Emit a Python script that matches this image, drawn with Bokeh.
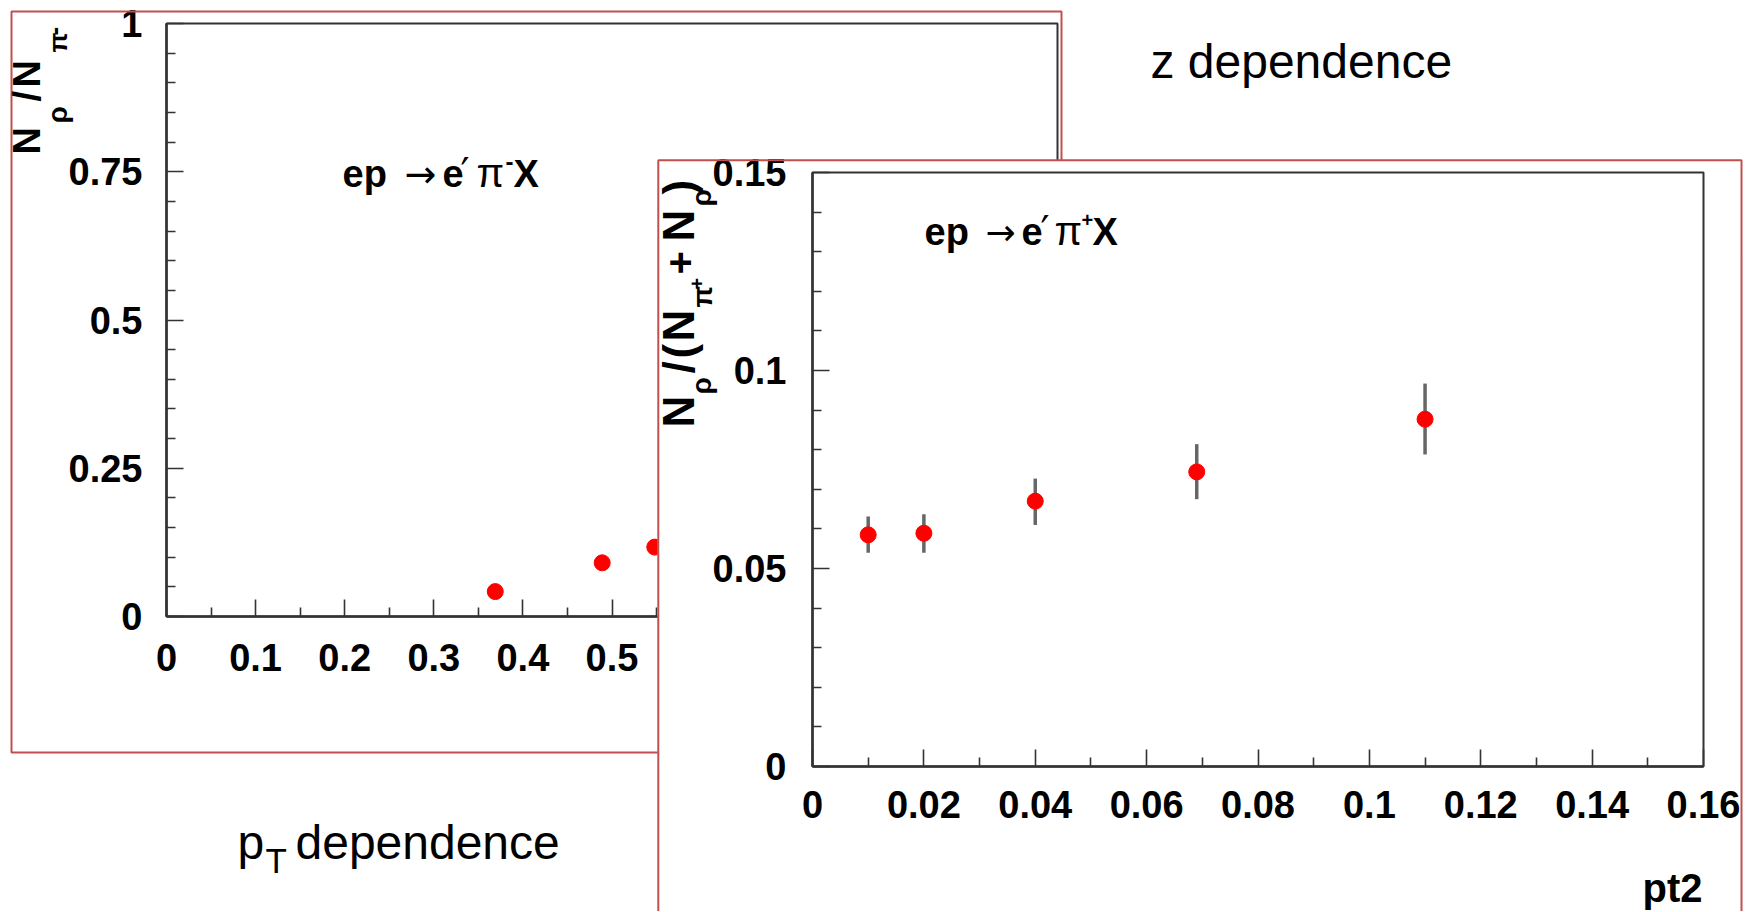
import math
from bokeh.plotting import figure
from bokeh.models import (Range1d, FixedTicker, Label, BoxAnnotation, Row, Column,
                          Spacer, ColumnDataSource)
from bokeh.embed import file_html
from bokeh.resources import INLINE

# ---------------- data ----------------
# left panel (ep -> e' pi- X), ratio N_rho / N_pi-
z_x = [0.369, 0.489, 0.548]
z_y = [0.042, 0.0905, 0.117]

# right panel (ep -> e' pi+ X), ratio vs pt2
pt2_x = [0.010, 0.020, 0.040, 0.069, 0.110]
ratio_y = [0.0585, 0.0589, 0.0670, 0.0744, 0.0877]
err_lo = [0.0540, 0.0540, 0.0610, 0.0675, 0.0788]
err_hi = [0.0631, 0.0637, 0.0727, 0.0814, 0.0967]

# tick labels
a_x_ticks = [0, 0.1, 0.2, 0.3, 0.4, 0.5, 0.6, 0.7, 0.8, 0.9, 1.0]
a_x_labels = ["0", "0.1", "0.2", "0.3", "0.4", "0.5", "0.6", "0.7", "0.8", "0.9", "1"]
a_y_ticks = [0, 0.25, 0.5, 0.75, 1.0]
a_y_labels = ["0", "0.25", "0.5", "0.75", "1"]
b_x_ticks = [0, 0.02, 0.04, 0.06, 0.08, 0.1, 0.12, 0.14, 0.16]
b_x_labels = ["0", "0.02", "0.04", "0.06", "0.08", "0.1", "0.12", "0.14", "0.16"]
b_y_ticks = [0, 0.05, 0.1, 0.15]
b_y_labels = ["0", "0.05", "0.1", "0.15"]

a_x_minor = [round(0.05 + 0.1 * k, 4) for k in range(10)]
a_y_minor = [round(0.05 * k, 4) for k in range(21) if k % 5]
b_x_minor = [round(0.01 + 0.02 * k, 4) for k in range(8)]
b_y_minor = [round(0.01 * k, 4) for k in range(16) if k % 5]

RED_BORDER = "#c0504d"
AXC = "#333333"
BOLD = "Liberation Sans"
R90 = math.pi / 2
BASE_K = 0.33   # offset between requested and drawn baseline, in em

# ---------------- geometry (page pixels) ----------------
A_W, A_H = 1062, 760
A_L, A_R, A_T, A_B = 166, 1057, 23, 616
CA_W, CA_H = 1460, 890
B_OX, B_OY = 657, 151
B_W, B_H = 1086, 758
B_L, B_R, B_T, B_B = 812, 1703, 172, 766
CB_OX = 560
CB_W, CB_H = 1743 - CB_OX, 911


def lbl(p, px, py, text, size, bold=True, font=BOLD, angle=0.0, align="left", ox=0):
    x, y = px - ox, py
    if angle:
        x -= BASE_K * size
    else:
        y -= BASE_K * size
    p.add_layout(Label(x=x, y=y, text=text, text_font=font,
                       text_font_size=f"{size}px",
                       text_font_style="bold" if bold else "normal",
                       angle=angle, text_align=align,
                       text_baseline="alphabetic", text_color="black"))


def rect(p, l, t, r, b, ox=0, line=None, fill=None, lw=2):
    p.add_layout(BoxAnnotation(left=l - ox, right=r - ox, top=t, bottom=b,
                               fill_color=fill, fill_alpha=1 if fill else 0,
                               line_color=line, line_width=lw,
                               line_alpha=1 if line else 0))


def style_axis(ax, ticks, minor, labels, standoff, size):
    ax.ticker = FixedTicker(ticks=ticks, minor_ticks=minor)
    ax.major_label_overrides = dict(zip(ticks, labels))
    ax.major_tick_in = 17
    ax.major_tick_out = 0
    ax.minor_tick_in = 9
    ax.minor_tick_out = 0
    ax.axis_line_color = AXC
    ax.axis_line_width = 2.5
    ax.major_tick_line_color = AXC
    ax.major_tick_line_width = 1.6
    ax.minor_tick_line_color = AXC
    ax.minor_tick_line_width = 1.6
    ax.major_label_text_font = BOLD
    ax.major_label_text_font_style = "bold"
    ax.major_label_text_font_size = f"{size}px"
    ax.major_label_text_color = "black"
    ax.major_label_standoff = standoff


def overlay(w, h):
    p = figure(width=w, height=h, x_range=Range1d(0, w), y_range=Range1d(h, 0),
               x_axis_location=None, y_axis_location=None, toolbar_location=None,
               output_backend="svg", title=None,
               min_border_left=0, min_border_right=0, min_border_top=0,
               min_border_bottom=0)
    p.grid.visible = False
    p.background_fill_color = None
    p.border_fill_color = None
    p.outline_line_color = None
    return p


# ---------------- left panel ----------------
pA = figure(width=A_W, height=A_H, x_range=Range1d(0, 1), y_range=Range1d(0, 1),
            output_backend="svg", toolbar_location=None, title=None,
            min_border_left=A_L, min_border_right=A_W - A_R,
            min_border_top=A_T, min_border_bottom=A_H - A_B)
pA.xgrid.visible = False
pA.ygrid.visible = False
pA.background_fill_color = "white"
pA.border_fill_color = "white"
pA.outline_line_color = AXC
pA.outline_line_width = 2
style_axis(pA.xaxis[0], a_x_ticks, a_x_minor, a_x_labels, 27, 38)
style_axis(pA.yaxis[0], a_y_ticks, a_y_minor, a_y_labels, 24, 38)

srcA = ColumnDataSource(dict(x=z_x, y=z_y))
pA.scatter("x", "y", source=srcA, size=16, color="red")
colA = Column(children=[pA], spacing=0)
colA.margin = (0, 0, 0, 0)

# overlay with the texts of the left panel (page coordinates)
cA = overlay(CA_W, CA_H)
rect(cA, 11, 11, 1061, 752, line=RED_BORDER)

# y title N_rho / N_pi-
lbl(cA, 39, 154, "N", 38, angle=R90)
lbl(cA, 66, 123, "ρ", 28, angle=R90)
lbl(cA, 39, 101, "/", 38, angle=R90)
lbl(cA, 39, 87, "N", 38, angle=R90)
lbl(cA, 66, 52, "π", 26, angle=R90)
lbl(cA, 62, 35, "-", 26, angle=R90)

# reaction text  ep -> e' pi- X
lbl(cA, 342, 186, "ep", 38)
lbl(cA, 404, 186, "→", 38, bold=False, font="DejaVu Sans")
lbl(cA, 442, 186, "e", 38)
lbl(cA, 460, 186, "′", 40, bold=False, font="DejaVu Sans")
lbl(cA, 476, 186, "π", 40, bold=False)
lbl(cA, 505, 169, "-", 24)
lbl(cA, 513, 186, "X", 38)

# slide texts
lbl(cA, 1150, 77, "z dependence", 48, bold=False)
lbl(cA, 237, 858, "p", 48, bold=False)
lbl(cA, 265, 872, "T", 35, bold=False)
lbl(cA, 295, 858, "dependence", 48, bold=False)
colCA = Column(children=[cA], spacing=0)
colCA.margin = (0, 0, 0, -A_W)

# ---------------- right panel ----------------
pB = figure(width=B_W, height=B_H, x_range=Range1d(0, 0.16), y_range=Range1d(0, 0.15),
            output_backend="svg", toolbar_location=None, title=None,
            min_border_left=B_L - B_OX, min_border_right=B_OX + B_W - B_R,
            min_border_top=B_T - B_OY, min_border_bottom=B_OY + B_H - B_B)
pB.xgrid.visible = False
pB.ygrid.visible = False
pB.background_fill_color = "white"
pB.border_fill_color = "white"
pB.outline_line_color = AXC
pB.outline_line_width = 2
style_axis(pB.xaxis[0], b_x_ticks, b_x_minor, b_x_labels, 24, 38)
style_axis(pB.yaxis[0], b_y_ticks, b_y_minor, b_y_labels, 26, 38)

srcB = ColumnDataSource(dict(x=pt2_x, y=ratio_y, lo=err_lo, hi=err_hi))
pB.segment(x0="x", y0="lo", x1="x", y1="hi", source=srcB,
           line_color="#666666", line_width=3.5)
pB.scatter("x", "y", source=srcB, size=16, color="red")

colB = Column(children=[Spacer(width=B_W, height=B_OY), pB], spacing=0)
colB.margin = (0, 0, 0, B_OX - CA_W)

# overlay with the texts of the right panel (local x = page x - CB_OX)
cB = overlay(CB_W, CB_H)
o = CB_OX
# parts of the left panel frame/border above the right panel's box
rect(cB, 1056, B_OY, 1058, 160, ox=o, fill=AXC)
rect(cB, 1060, B_OY, 1062, 160, ox=o, fill=RED_BORDER)
rect(cB, 657.8, 159.8, 1741, 1400, ox=o, line=RED_BORDER)

# y title N_rho / (N_pi+ + N_rho)
lbl(cB, 693, 427, "N", 44, angle=R90, ox=o)
lbl(cB, 710, 394, "ρ", 28, angle=R90, ox=o)
lbl(cB, 693, 373, "/", 44, angle=R90, ox=o)
lbl(cB, 693, 358, "(", 44, angle=R90, ox=o)
lbl(cB, 693, 341, "N", 44, angle=R90, ox=o)
lbl(cB, 711, 307, "π", 28, angle=R90, ox=o)
lbl(cB, 703, 289, "+", 20, angle=R90, ox=o)
lbl(cB, 693, 274, "+", 40, angle=R90, ox=o)
lbl(cB, 693, 241, "N", 44, angle=R90, ox=o)
lbl(cB, 710, 206, "ρ", 28, angle=R90, ox=o)
lbl(cB, 693, 194, ")", 44, angle=R90, ox=o)

# reaction text  ep -> e' pi+ X
lbl(cB, 924, 244, "ep", 38, ox=o)
lbl(cB, 985, 244, "→", 36, bold=False, font="DejaVu Sans", ox=o)
lbl(cB, 1021, 244, "e", 38, ox=o)
lbl(cB, 1040, 244, "′", 40, bold=False, font="DejaVu Sans", ox=o)
lbl(cB, 1054, 244, "π", 40, bold=False, ox=o)
lbl(cB, 1081, 226, "+", 20, ox=o)
lbl(cB, 1092, 244, "X", 38, ox=o)

# x title
lbl(cB, 1702, 901, "pt2", 40, align="right", ox=o)
colCB = Column(children=[cB], spacing=0)
colCB.margin = (0, 0, 0, CB_OX - (B_OX + B_W))

layout = Row(children=[colA, colCA, colB, colCB], spacing=0)

open("out.html", "w").write(file_html(layout, INLINE))
